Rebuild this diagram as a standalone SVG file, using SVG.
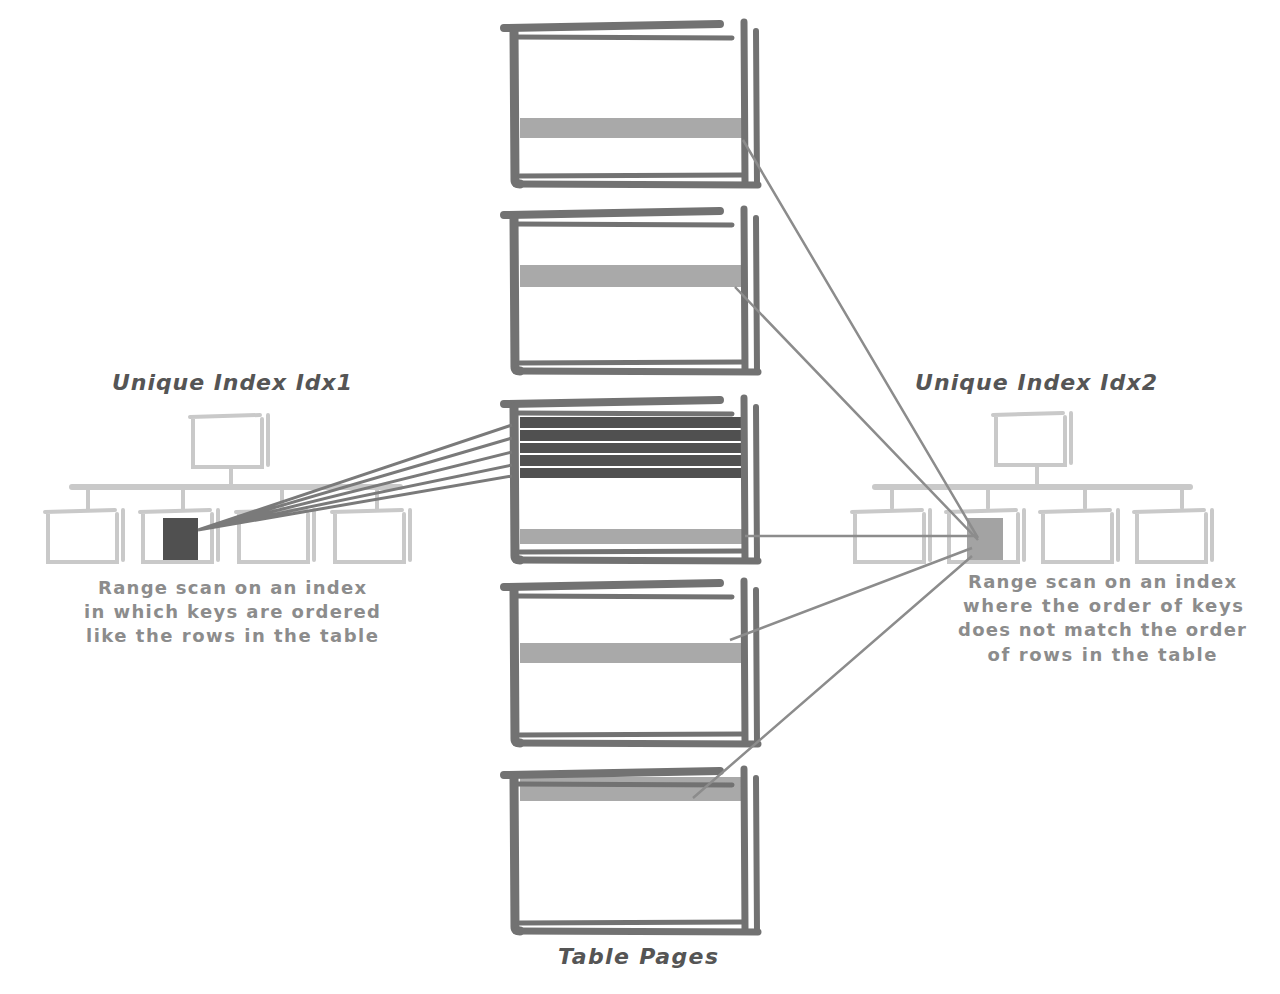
<svg xmlns="http://www.w3.org/2000/svg" width="1280" height="994" viewBox="0 0 1280 994">
<defs>
<style>
.frame{stroke:#727272;fill:none;stroke-linecap:round}
.band{fill:#a9a9a9}
.dark{fill:#505050}
.tbox{stroke:#c9c9c9;fill:none;stroke-width:4;stroke-linecap:round}
.tbar{stroke:#c9c9c9;fill:none;stroke-width:6;stroke-linecap:round}
.title{font-family:"DejaVu Sans","Liberation Sans",sans-serif;font-size:22px;font-weight:bold;font-style:italic;fill:#555555}
.desc{font-family:"DejaVu Sans","Liberation Sans",sans-serif;font-size:18px;font-weight:bold;fill:#8c8c8c}
.fanL{stroke:#7a7a7a;stroke-width:3;fill:none}
.fanR{stroke:#8c8c8c;stroke-width:2.5;fill:none}
</style>
<g id="pageFrame">
<path class="frame" stroke-width="8" d="M504 28 L720 24"/>
<path class="frame" stroke-width="5" d="M516 37 L732 38"/>
<path class="frame" stroke-width="9" d="M514 31 L515 180 Q515 184 520 184"/>
<path class="frame" stroke-width="7" d="M744 22 L745 182"/>
<path class="frame" stroke-width="6" d="M756 31 L757 185"/>
<path class="frame" stroke-width="5" d="M520 176 L742 175"/>
<path class="frame" stroke-width="7" d="M516 184 L758 185"/>
</g>
<g id="treeBox">
<path class="tbox" d="M0 2 L70 0 M3 4 L3 52 L72 52 L72 4 M78 0 L78 50"/>
</g>
</defs>
<rect width="1280" height="994" fill="#ffffff"/>

<g id="page1">
<rect class="band" x="520" y="118" width="226" height="20"/>
<use href="#pageFrame"/>
</g>
<g id="page2">
<rect class="band" x="520" y="265" width="226" height="22"/>
<use href="#pageFrame" transform="translate(0,187)"/>
</g>
<g id="page3">
<rect class="dark" x="520" y="417" width="224" height="11"/>
<rect class="dark" x="520" y="430" width="224" height="11"/>
<rect class="dark" x="520" y="443" width="224" height="10"/>
<rect class="dark" x="520" y="455" width="224" height="11"/>
<rect class="dark" x="520" y="468" width="224" height="10"/>
<rect class="band" x="520" y="529" width="226" height="15"/>
<use href="#pageFrame" transform="translate(0,376)"/>
</g>
<g id="page4">
<rect class="band" x="520" y="643" width="226" height="20"/>
<use href="#pageFrame" transform="translate(0,559)"/>
</g>
<g id="page5">
<rect class="band" x="520" y="777" width="226" height="24"/>
<use href="#pageFrame" transform="translate(0,747)"/>
</g>
<text id="tablePagesLabel" class="title" x="638" y="964" text-anchor="middle" textLength="160">Table Pages</text>

<g id="idx1">
<use href="#treeBox" transform="translate(190,415)"/>
<path class="tbox" d="M231 467 L231 487"/>
<path class="tbar" d="M72 487 L400 487"/>
<path class="tbox" d="M88 487 L88 510 M183 487 L183 510 M282 487 L282 510 M377 487 L377 510"/>
<use href="#treeBox" transform="translate(45,510)"/>
<use href="#treeBox" transform="translate(140,510)"/>
<use href="#treeBox" transform="translate(236,510)"/>
<use href="#treeBox" transform="translate(332,510)"/>
<rect x="163" y="518" width="35" height="42" fill="#505050"/>
<text class="title" x="232" y="390" text-anchor="middle" textLength="240">Unique Index Idx1</text>
<text class="desc" x="232" y="594" text-anchor="middle" textLength="268">Range scan on an index</text>
<text class="desc" x="232" y="618" text-anchor="middle" textLength="296">in which keys are ordered</text>
<text class="desc" x="232" y="642" text-anchor="middle" textLength="292">like the rows in the table</text>
</g>

<g id="idx2">
<use href="#treeBox" transform="translate(993,413)"/>
<path class="tbox" d="M1037 467 L1037 487"/>
<path class="tbar" d="M875 487 L1190 487"/>
<path class="tbox" d="M892 487 L892 508 M988 487 L988 508 M1085 487 L1085 508 M1182 487 L1182 508"/>
<use href="#treeBox" transform="translate(852,510)"/>
<use href="#treeBox" transform="translate(946,510)"/>
<use href="#treeBox" transform="translate(1040,510)"/>
<use href="#treeBox" transform="translate(1134,510)"/>
<rect x="967" y="518" width="36" height="42" fill="#a3a3a3"/>
<text class="title" x="1036" y="390" text-anchor="middle" textLength="242">Unique Index Idx2</text>
<text class="desc" x="1102" y="588" text-anchor="middle" textLength="268">Range scan on an index</text>
<text class="desc" x="1103" y="612" text-anchor="middle" textLength="280">where the order of keys</text>
<text class="desc" x="1102" y="636" text-anchor="middle" textLength="288">does not match the order</text>
<text class="desc" x="1102" y="661" text-anchor="middle" textLength="229">of rows in the table</text>
</g>

<g id="connectors">
<path class="fanL" d="M198 530 L512 425 M198 530 L512 438 M198 530 L512 452 M198 530 L512 465 M198 530 L512 476"/>
<path class="fanR" d="M743 140 L978 538 M735 287 L978 540 M745 536 L975 536 M730 640 L972 548 M693 798 L972 556"/>
</g>
</svg>
